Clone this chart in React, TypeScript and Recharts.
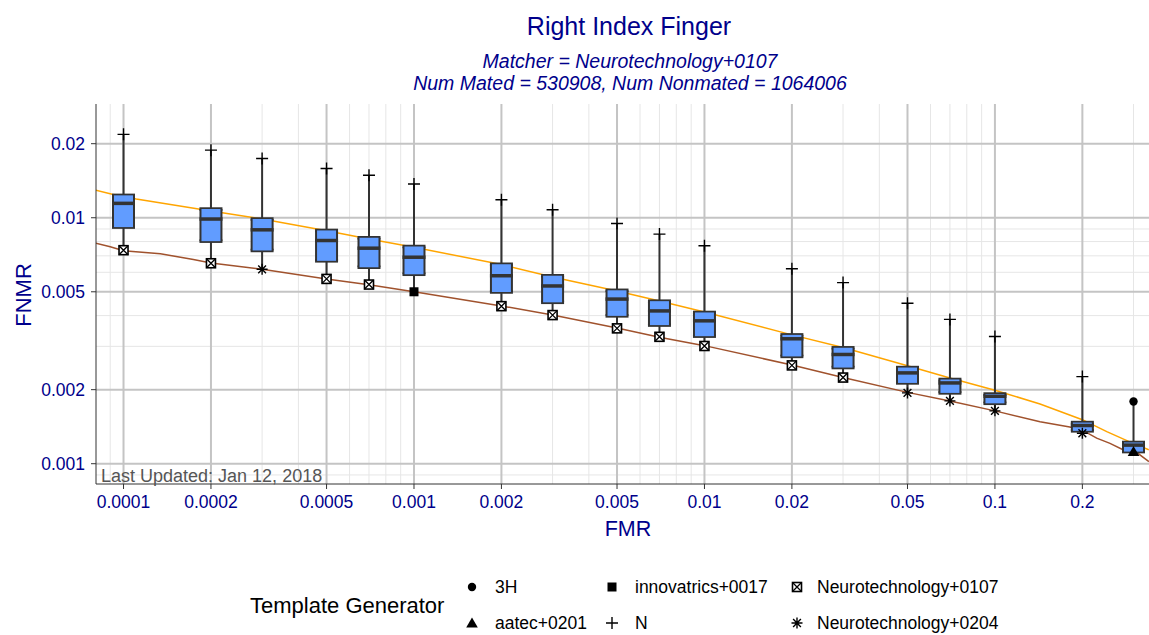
import React from 'react'
import { ComposedChart, XAxis, YAxis, CartesianGrid, Scatter, Line, ErrorBar } from 'recharts'

// box plot per FMR operating point
const fmrLevels = [0.0001, 0.0002, 0.0003, 0.0005, 0.0007, 0.001, 0.002, 0.003, 0.005, 0.007, 0.01, 0.02, 0.03, 0.05, 0.07, 0.1, 0.2, 0.3]
const fnmrMin = [0.00738, 0.00653, 0.00617, 0.00564, 0.00535, 0.0050, 0.00437, 0.00402, 0.00355, 0.00328, 0.00301, 0.00251, 0.00224, 0.00194, 0.0018, 0.00164, 0.00133, 0.00112]
const fnmrQ1 = [0.00916, 0.00803, 0.00736, 0.00668, 0.00629, 0.00589, 0.00499, 0.00453, 0.00399, 0.00366, 0.0033, 0.00273, 0.00246, 0.00213, 0.00194, 0.00176, 0.00136, 0.00112]
const fnmrMedian = [0.01144, 0.00988, 0.00893, 0.00808, 0.00752, 0.00691, 0.00581, 0.00528, 0.00467, 0.00418, 0.00381, 0.00322, 0.00278, 0.00234, 0.00213, 0.00188, 0.00143, 0.00119]
const fnmrQ3 = [0.01233, 0.01085, 0.00988, 0.00888, 0.00829, 0.00764, 0.00647, 0.00581, 0.00507, 0.00458, 0.00412, 0.00334, 0.00296, 0.00246, 0.0022, 0.00192, 0.00147, 0.00122]
const fnmrMax = [0.02183, 0.01883, 0.01741, 0.01585, 0.01488, 0.01372, 0.01184, 0.01078, 0.00948, 0.00858, 0.00769, 0.0062, 0.00545, 0.00449, 0.00386, 0.00329, 0.00226, 0.00179]
const minGenerator = [
  'Neurotechnology+0107', 'Neurotechnology+0107', 'Neurotechnology+0204', 'Neurotechnology+0107', 'Neurotechnology+0107',
  'innovatrics+0017', 'Neurotechnology+0107', 'Neurotechnology+0107', 'Neurotechnology+0107', 'Neurotechnology+0107',
  'Neurotechnology+0107', 'Neurotechnology+0107', 'Neurotechnology+0107', 'Neurotechnology+0204', 'Neurotechnology+0204',
  'Neurotechnology+0204', 'Neurotechnology+0204', 'aatec+0201',
]
const maxGenerator = ['N', 'N', 'N', 'N', 'N', 'N', 'N', 'N', 'N', 'N', 'N', 'N', 'N', 'N', 'N', 'N', 'N', '3H']

// orange reference curve
const orangeFmr = [0.00008, 0.0000914, 0.0001106, 0.0002, 0.0003, 0.0005, 0.0007, 0.001, 0.002, 0.003, 0.005, 0.007, 0.01, 0.02, 0.03, 0.05, 0.07, 0.1, 0.143, 0.2, 0.2427, 0.299, 0.3387]
const orangeFnmr = [0.01296, 0.01245, 0.01191, 0.01065, 0.00988, 0.00885, 0.00819, 0.00759, 0.00645, 0.00574, 0.00504, 0.00459, 0.00414, 0.00334, 0.00297, 0.0025, 0.00223, 0.00199, 0.00175, 0.00151, 0.00135, 0.00121, 0.00114]

// brown DET curve
const brownFmr = [0.00008, 0.00009, 0.0001, 0.000134, 0.000174, 0.0002, 0.0003, 0.0005, 0.0007, 0.001, 0.002, 0.003, 0.005, 0.007, 0.01, 0.02, 0.03, 0.05, 0.07, 0.1, 0.143, 0.181, 0.2, 0.224, 0.249, 0.276, 0.308, 0.339]
const brownFnmr = [0.00789, 0.00762, 0.00734, 0.00714, 0.00676, 0.00654, 0.00617, 0.00563, 0.00534, 0.0050, 0.00438, 0.00402, 0.00356, 0.00327, 0.00302, 0.00252, 0.00224, 0.00195, 0.0018, 0.00164, 0.00148, 0.00141, 0.00137, 0.00127, 0.00121, 0.00114, 0.00111, 0.00102]

const xTicks = [0.0001, 0.0002, 0.0005, 0.001, 0.002, 0.005, 0.01, 0.02, 0.05, 0.1, 0.2]
const yTicks = [0.001, 0.002, 0.005, 0.01, 0.02]
const xMinor = [0.00009, 0.0003, 0.0004, 0.0006, 0.0007, 0.0008, 0.0009, 0.003, 0.004, 0.006, 0.007, 0.008, 0.009, 0.03, 0.04, 0.06, 0.07, 0.08, 0.09, 0.3]
const yMinor = [0.0009, 0.003, 0.004, 0.006, 0.007, 0.008, 0.009]

const legendCols = [
  ['3H', 'aatec+0201'],
  ['innovatrics+0017', 'N'],
  ['Neurotechnology+0107', 'Neurotechnology+0204'],
]

const boxData = fmrLevels.map((fmr, i) => ({
  fmr,
  med: fnmrMedian[i],
  min: fnmrMin[i],
  max: fnmrMax[i],
  whisker: [fnmrMedian[i] - fnmrMin[i], fnmrMax[i] - fnmrMedian[i]],
  box: [fnmrMedian[i] - fnmrQ1[i], fnmrQ3[i] - fnmrMedian[i]],
  minGen: minGenerator[i],
  maxGen: maxGenerator[i],
}))
const orangeData = orangeFmr.map((fmr, i) => ({ fmr, fnmr: orangeFnmr[i] }))
const brownData = brownFmr.map((fmr, i) => ({ fmr, fnmr: brownFnmr[i] }))

const FONT = '"Liberation Sans", Arial, Helvetica, sans-serif'
const BLUE = '#00008B'
const EDGE = '#333333'
const FILL = '#619CFF'

function Marker({ kind, x, y }: { kind: string; x: number; y: number }) {
  if (kind === 'N') {
    return <path d={`M${x - 6},${y}H${x + 6}M${x},${y - 6}V${y + 6}`} stroke="#000" strokeWidth={1.4} fill="none" />
  }
  if (kind === 'Neurotechnology+0107') {
    return (
      <g>
        <rect x={x - 4.5} y={y - 4.5} width={9} height={9} fill="#fff" stroke="#000" strokeWidth={1.6} />
        <path d={`M${x - 4.5},${y - 4.5}L${x + 4.5},${y + 4.5}M${x + 4.5},${y - 4.5}L${x - 4.5},${y + 4.5}`} stroke="#000" strokeWidth={1.3} />
      </g>
    )
  }
  if (kind === 'Neurotechnology+0204') {
    const r = 5.5
    const d = r * 0.707
    return (
      <path
        d={`M${x - r},${y}H${x + r}M${x},${y - r}V${y + r}M${x - d},${y - d}L${x + d},${y + d}M${x + d},${y - d}L${x - d},${y + d}`}
        stroke="#000"
        strokeWidth={1.4}
      />
    )
  }
  if (kind === 'innovatrics+0017') {
    return <rect x={x - 4.5} y={y - 4.5} width={9} height={9} fill="#000" />
  }
  if (kind === '3H') {
    return <circle cx={x} cy={y} r={4.2} fill="#000" />
  }
  if (kind === 'aatec+0201') {
    return <path d={`M${x},${y - 5.5}L${x + 5.8},${y + 4.5}L${x - 5.8},${y + 4.5}Z`} fill="#000" />
  }
  return null
}

const abs = (left: number, top: number, extra: React.CSSProperties = {}): React.CSSProperties => ({
  position: 'absolute',
  left,
  top,
  lineHeight: 1,
  whiteSpace: 'nowrap',
  fontFamily: FONT,
  ...extra,
})

const noShape = () => <g />

export default function App() {
  return (
    <div style={{ position: 'absolute', left: 0, top: 0, width: 1149, height: 635, overflow: 'hidden', background: '#fff', fontFamily: FONT }}>
      <ComposedChart width={1163} height={635} data={boxData} margin={{ top: 104, right: 1, bottom: 111, left: 0 }}>
        <CartesianGrid horizontalValues={yMinor} verticalValues={xMinor} stroke="#e6e6e6" strokeWidth={1} />
        <CartesianGrid horizontalValues={yTicks} verticalValues={xTicks} stroke="#c4c4c4" strokeWidth={2} />
        <XAxis
          dataKey="fmr"
          type="number"
          scale="log"
          domain={[0.0000804, 0.376]}
          allowDataOverflow
          ticks={xTicks}
          tickFormatter={(v: number) => String(v)}
          height={40}
          tickSize={5}
          tickMargin={7}
          axisLine={{ stroke: '#333' }}
          tickLine={{ stroke: '#333' }}
          tick={{ fill: BLUE, fontSize: 17.5, fontFamily: FONT }}
          interval={0}
        />
        <XAxis xAxisId="top" orientation="top" type="number" domain={[0, 1]} height={0} tick={false} tickLine={false} axisLine={{ stroke: '#333' }} />
        <YAxis
          type="number"
          scale="log"
          domain={[0.000827, 0.029]}
          allowDataOverflow
          ticks={yTicks}
          tickFormatter={(v: number) => String(v)}
          width={96}
          tickSize={5}
          tickMargin={6}
          axisLine={{ stroke: '#333' }}
          tickLine={{ stroke: '#333' }}
          tick={{ fill: BLUE, fontSize: 17.5, fontFamily: FONT }}
          interval={0}
        />
        <Line data={orangeData} dataKey="fnmr" stroke="#FFA500" strokeWidth={1.5} dot={false} isAnimationActive={false} />
        <Line data={brownData} dataKey="fnmr" stroke="#A0522D" strokeWidth={1.5} dot={false} isAnimationActive={false} />
        {/* whiskers */}
        <Scatter dataKey="med" shape={noShape} isAnimationActive={false}>
          <ErrorBar dataKey="whisker" direction="y" width={0} stroke={EDGE} strokeWidth={2} />
        </Scatter>
        {/* box: dark body, top/bottom edges, blue inside */}
        <Scatter dataKey="med" shape={noShape} isAnimationActive={false}>
          <ErrorBar dataKey="box" direction="y" width={0} stroke={EDGE} strokeWidth={23} />
        </Scatter>
        <Scatter dataKey="med" shape={noShape} isAnimationActive={false}>
          <ErrorBar dataKey="box" direction="y" width={11.5} stroke={EDGE} strokeWidth={3.5} />
        </Scatter>
        <Scatter dataKey="med" shape={noShape} isAnimationActive={false}>
          <ErrorBar dataKey="box" direction="y" width={0} stroke={FILL} strokeWidth={19} />
        </Scatter>
        <Scatter
          dataKey="med"
          isAnimationActive={false}
          shape={(p: any) => <line x1={p.cx - 11.5} x2={p.cx + 11.5} y1={p.cy} y2={p.cy} stroke={EDGE} strokeWidth={3.5} />}
        />
        <Scatter dataKey="min" isAnimationActive={false} shape={(p: any) => <Marker kind={p.payload.minGen} x={p.cx} y={p.cy} />} />
        <Scatter dataKey="max" isAnimationActive={false} shape={(p: any) => <Marker kind={p.payload.maxGen} x={p.cx} y={p.cy} />} />
      </ComposedChart>

      <div style={abs(629, 13.8, { fontSize: 25, color: BLUE, transform: 'translateX(-50%)' })}>Right Index Finger</div>
      <div style={abs(630, 51.8, { fontSize: 19.5, color: BLUE, fontStyle: 'italic', transform: 'translateX(-50%)' })}>
        Matcher = Neurotechnology+0107
      </div>
      <div style={abs(630, 74.2, { fontSize: 19.5, color: BLUE, fontStyle: 'italic', transform: 'translateX(-50%)' })}>
        Num Mated = 530908, Num Nonmated = 1064006
      </div>
      <div style={abs(628, 518.8, { fontSize: 21.5, color: BLUE, transform: 'translateX(-50%)' })}>FMR</div>
      <div style={abs(24, 295, { fontSize: 22, color: BLUE, transform: 'translate(-50%,-50%) rotate(-90deg)' })}>FNMR</div>
      <div style={abs(101, 466.5, { fontSize: 18, color: '#555' })}>Last Updated: Jan 12, 2018</div>

      <div style={abs(250, 595.4, { fontSize: 22, color: '#000' })}>Template Generator</div>
      {legendCols.map((col, ci) =>
        col.map((name, ri) => {
          const sx = [472, 612, 797][ci]
          const lx = [495, 635, 817][ci]
          const cy = [587, 623][ri]
          return (
            <React.Fragment key={name}>
              <svg width={16} height={16} style={{ position: 'absolute', left: sx - 8, top: cy - 8 }}>
                <Marker kind={name} x={8} y={8} />
              </svg>
              <div style={abs(lx, cy - 8.3, { fontSize: 17.5, color: '#000' })}>{name}</div>
            </React.Fragment>
          )
        })
      )}
    </div>
  )
}
